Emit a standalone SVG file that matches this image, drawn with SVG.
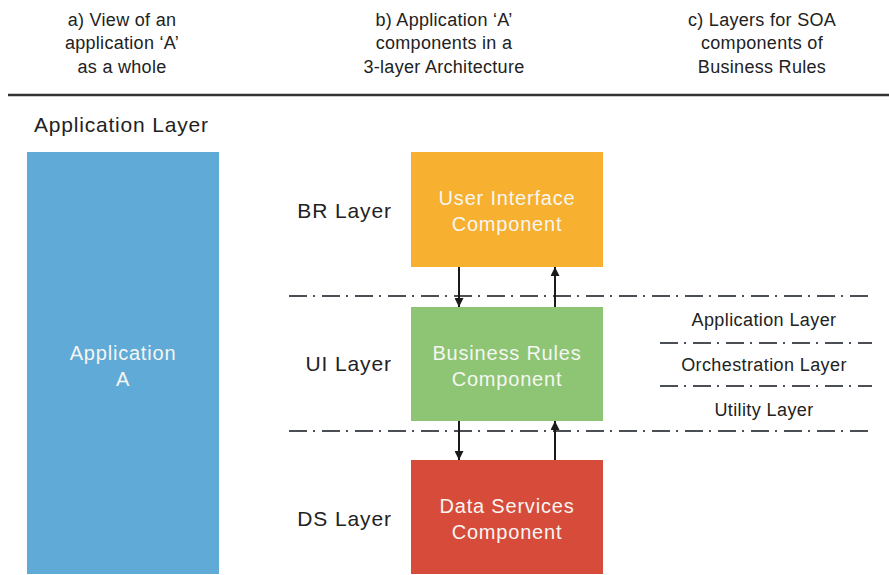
<svg xmlns="http://www.w3.org/2000/svg" width="889" height="575" viewBox="0 0 889 575">
  <defs>
    <marker id="head" viewBox="0 0 8 8" refX="8" refY="4" markerWidth="9" markerHeight="9" markerUnits="userSpaceOnUse" orient="auto">
      <path d="M0,0 L8,4 L0,8 z" fill="#1a1a1a"/>
    </marker>
    <style>
      text { font-family: "Liberation Sans", Arial, sans-serif; }
      .hdr { font-size: 18px; fill: #222; text-anchor: middle; letter-spacing: 0.3px; }
      .lbl { font-size: 21px; fill: #222; letter-spacing: 0.8px; }
      .lyr { font-size: 21px; fill: #222; text-anchor: end; letter-spacing: 0.9px; }
      .soa { font-size: 18px; fill: #222; text-anchor: middle; letter-spacing: 0.4px; }
      .box-text { font-size: 20px; fill: #f6f6f2; text-anchor: middle; letter-spacing: 0.8px; }
      .sep { stroke: #4a4f55; stroke-width: 2; stroke-dasharray: 18 6 2 7; fill: none; }
      .flow { stroke: #1a1a1a; stroke-width: 2; fill: none; marker-end: url(#head); }
    </style>
  </defs>
  <rect width="889" height="575" fill="#ffffff"/>

  <!-- column headings -->
  <g id="headings">
    <text class="hdr" x="122" y="26">a) View of an</text>
    <text class="hdr" x="122" y="49">application ‘A’</text>
    <text class="hdr" x="122" y="73">as a whole</text>
    <text class="hdr" x="444" y="26">b) Application ‘A’</text>
    <text class="hdr" x="444" y="49">components in a</text>
    <text class="hdr" x="444" y="73">3-layer Architecture</text>
    <text class="hdr" x="762" y="26">c) Layers for SOA</text>
    <text class="hdr" x="762" y="49">components of</text>
    <text class="hdr" x="762" y="73">Business Rules</text>
    <line x1="8" y1="95" x2="889" y2="95" stroke="#333" stroke-width="2.5"/>
  </g>

  <text class="lbl" x="34" y="132">Application Layer</text>

  <!-- layer labels -->
  <g id="layer-labels">
    <text class="lyr" x="392" y="218">BR Layer</text>
    <text class="lyr" x="392" y="371">UI Layer</text>
    <text class="lyr" x="392" y="526">DS Layer</text>
  </g>

  <!-- whole application -->
  <g id="application-a">
    <rect x="27" y="152" width="192" height="422" fill="#5faad6"/>
    <text class="box-text" x="123" y="360">Application</text>
    <text class="box-text" x="123" y="386">A</text>
  </g>

  <!-- three-layer components -->
  <g id="ui-component">
    <rect x="411" y="152" width="192" height="115" fill="#f7b02f"/>
    <text class="box-text" x="507" y="205">User Interface</text>
    <text class="box-text" x="507" y="231">Component</text>
  </g>
  <g id="br-component">
    <rect x="411" y="307" width="192" height="114" fill="#8dc574"/>
    <text class="box-text" x="507" y="360">Business Rules</text>
    <text class="box-text" x="507" y="386">Component</text>
  </g>
  <g id="ds-component">
    <rect x="411" y="460" width="192" height="114" fill="#d64b3a"/>
    <text class="box-text" x="507" y="513">Data Services</text>
    <text class="box-text" x="507" y="539">Component</text>
  </g>

  <!-- SOA sub-layers -->
  <g id="soa-layers">
    <text class="soa" x="764" y="326">Application Layer</text>
    <text class="soa" x="764" y="371">Orchestration Layer</text>
    <text class="soa" x="764" y="416">Utility Layer</text>
  </g>

  <!-- connectors and boundaries -->
  <g id="connectors">
    <line class="sep" x1="289" y1="296" x2="870" y2="296"/>
    <line class="sep" x1="289" y1="431" x2="870" y2="431"/>
    <line class="sep" x1="660" y1="343" x2="872" y2="343"/>
    <line class="sep" x1="660" y1="386" x2="872" y2="386"/>
    <line class="flow" x1="459" y1="267" x2="459" y2="307"/>
    <line class="flow" x1="555" y1="307" x2="555" y2="267"/>
    <line class="flow" x1="459" y1="421" x2="459" y2="460"/>
    <line class="flow" x1="555" y1="460" x2="555" y2="421"/>
  </g>
</svg>
